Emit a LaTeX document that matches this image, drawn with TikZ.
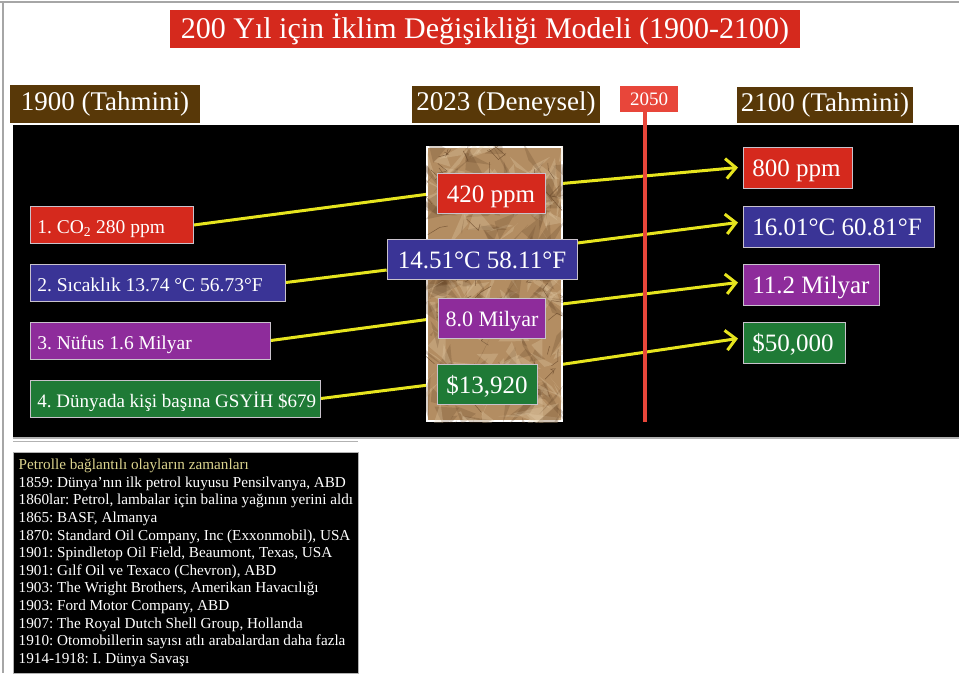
\documentclass[tikz,border=0pt]{standalone}
\usepackage{fontspec}
\setmainfont{Liberation Serif}
\usetikzlibrary{arrows.meta, positioning}

\definecolor{boxred}{HTML}{D5291D}
\definecolor{boxblue}{HTML}{3A3496}
\definecolor{boxpurple}{HTML}{8E2C9B}
\definecolor{boxgreen}{HTML}{1F7A36}
\definecolor{boxedge}{HTML}{C9C2CC}
\definecolor{headbrown}{HTML}{583808}
\definecolor{wireyellow}{HTML}{E6E41E}
\definecolor{markred}{HTML}{E8463A}
\definecolor{paper}{HTML}{B38D62}
\definecolor{papershade}{HTML}{664629}
\definecolor{paperlight}{HTML}{E8D2AE}
\definecolor{eventgold}{HTML}{DCD48E}

\pgfdeclarelayer{panel}
\pgfdeclarelayer{wires}
\pgfsetlayers{panel,wires,main}

% left-aligned text of fixed width inside a box
\newcommand{\fixtext}[2]{\makebox[#1][l]{#2}}

\frenchspacing

\begin{document}
\begin{tikzpicture}[x=1pt, y=-1pt,
  box/.style={
    draw=boxedge,
    line width=0.8pt,
    text=white,
    minimum height=37pt,
    text depth=0pt,
    inner xsep=7pt,
    inner ysep=0pt
  },
  lbox/.style={box, anchor=west, text height=17pt, font=\fontsize{19.5}{22}\selectfont},
  mbox/.style={box, minimum height=40pt, text height=18pt, font=\fontsize{25}{28}\selectfont},
  rbox/.style={box, anchor=west, minimum height=41pt, inner xsep=9pt, text height=18pt,
    font=\fontsize{25}{28}\selectfont},
  head/.style={fill=headbrown, text=white, inner sep=0pt, font=\fontsize{27}{30}\selectfont},
  wire/.style={draw=wireyellow, line width=3pt},
  arrow/.style={wire, -{Straight Barb[length=10pt, width=20pt]}},
  crease/.style={line width=0.5pt, line cap=round}
  ]

\useasboundingbox (0,0) rectangle (959,673);

% Title
\node[fill=boxred, text=white, minimum width=630pt, minimum height=38pt, inner sep=0pt,
  font=\fontsize{30}{33}\selectfont] (title) at (485,29)
  {200 Yıl için İklim Değişikliği Modeli (1900-2100)};

% Column headers
\node[head, minimum width=190pt, minimum height=38pt] (h1900) at (105,104) {1900 (Tahmini)};
\node[head, minimum width=188pt, minimum height=37pt] (h2023) at (506,104.5) {2023 (Deneysel)};
\node[fill=markred, text=white, minimum width=58pt, minimum height=26pt, inner sep=0pt,
  font=\fontsize{19}{21}\selectfont] (h2050) at (649,99) {2050};
\node[head, minimum width=176pt, minimum height=36pt] (h2100) at (825,105) {2100 (Tahmini)};

% Crumpled paper column
\node[fill=paper, draw=white, line width=2pt, minimum width=135pt, minimum height=274pt,
  inner sep=0pt] (paper) at (494.5,284) {};
\begin{scope}
  \clip (paper.north west) rectangle (paper.south east);
  \pgfmathsetseed{17}
  \foreach \k in {1,...,140} {
    \pgfmathsetmacro{\px}{494.5+72*rand}
    \pgfmathsetmacro{\py}{284+142*rand}
    \fill[papershade, opacity=0.25] (\px,\py) -- ++({26*rand},{26*rand}) -- ++({26*rand},{26*rand}) -- cycle;
    \fill[paperlight, opacity=0.28] ({\px+6},{\py-4}) -- ++({24*rand},{24*rand}) -- ++({24*rand},{24*rand}) -- cycle;
  }
  \foreach \k in {1,...,60} {
    \pgfmathsetmacro{\px}{494.5+70*rand}
    \pgfmathsetmacro{\py}{284+140*rand}
    \draw[crease, papershade, opacity=0.7] (\px,\py) -- ++({12*rand},{12*rand}) -- ++({12*rand},{12*rand});
  }
\end{scope}

% 1900 values
\node[lbox, fill=boxred] (co2L) at (30,225) {\fixtext{149pt}{1. CO\textsubscript{2} 280 ppm}};
\node[lbox, fill=boxblue] (tempL) at (30,282.5) {\fixtext{241pt}{2. Sıcaklık 13.74 °C 56.73°F}};
\node[lbox, fill=boxpurple] (popL) at (30,340.5) {\fixtext{226pt}{3. Nüfus 1.6 Milyar}};
\node[lbox, fill=boxgreen, font=\fontsize{19}{22}\selectfont] (gdpL) at (30,398.5)
  {\fixtext{276pt}{4. Dünyada kişi başına GSYİH \$679}};

% 2023 values
\node[mbox, fill=boxred, minimum width=108pt] (co2M) at (491,193) {420 ppm};
\node[mbox, fill=boxblue, minimum width=190pt] (tempM) at (482,259) {14.51°C 58.11°F};
\node[mbox, fill=boxpurple, minimum width=96pt, text height=16pt,
  font=\fontsize{22}{25}\selectfont] (popM) at (492,318) {8.0 Milyar};
\node[mbox, fill=boxgreen, minimum width=100pt] (gdpM) at (487,384) {\$13,920};

% 2100 values
\node[rbox, fill=boxred] (co2R) at (743,167.5) {\fixtext{91pt}{800 ppm}};
\node[rbox, fill=boxblue] (tempR) at (743,226.5) {\fixtext{173pt}{16.01°C 60.81°F}};
\node[rbox, fill=boxpurple] (popR) at (743,284.5) {\fixtext{118pt}{11.2 Milyar}};
\node[rbox, fill=boxgreen] (gdpR) at (743,342.5) {\fixtext{84pt}{\$50,000}};

% Events
\node[anchor=north west, fill=black, draw=gray!60, line width=0.8pt, text=white,
  minimum width=345pt, minimum height=221pt, inner sep=3pt, align=left,
  font=\fontsize{15.2}{17.6}\selectfont] (events) at (13,452)
  {\textcolor{eventgold}{Petrolle bağlantılı olayların zamanları}\\
   1859: Dünya’nın ilk petrol kuyusu Pensilvanya, ABD\\
   1860lar: Petrol, lambalar için balina yağının yerini aldı\\
   1865: BASF, Almanya\\
   1870: Standard Oil Company, Inc (Exxonmobil), USA\\
   1901: Spindletop Oil Field, Beaumont, Texas, USA\\
   1901: Gılf Oil ve Texaco (Chevron), ABD\\
   1903: The Wright Brothers, Amerikan Havacılığı\\
   1903: Ford Motor Company, ABD\\
   1907: The Royal Dutch Shell Group, Hollanda\\
   1910: Otomobillerin sayısı atlı arabalardan daha fazla\\
   1914-1918: I. Dünya Savaşı};

% Background and panel
\begin{pgfonlayer}{panel}
  \fill[white] (0,0) rectangle (959,673);
  \draw[gray!70, line width=2pt] (0,2) -- (959,2);
  \draw[gray!70, line width=2pt] (3,2) -- (3,673);
  \fill[black] (13,125) rectangle (959,437);
  \draw[gray!60, line width=1.5pt] (13,438) -- (959,438);
  \draw[gray!60, line width=1pt] (13,441) -- (358,441);
\end{pgfonlayer}

% Connectors
\begin{pgfonlayer}{wires}
  \draw[wire] (co2L.east) -- (co2M.west);
  \draw[wire] (tempL.east) -- ([yshift=-11pt]tempM.west);
  \draw[wire] (popL.east) -- (popM.west);
  \draw[wire] (gdpL.east) -- (gdpM.west);
  \draw[arrow] ([yshift=8pt]co2M.east) -- ([xshift=-5pt]co2R.west);
  \draw[arrow] ([yshift=16pt]tempM.east) -- ([xshift=-5pt,yshift=4pt]tempR.west);
  \draw[arrow] ([yshift=12pt]popM.east) -- ([xshift=-5pt,yshift=2pt]popR.west);
  \draw[arrow] ([yshift=16pt]gdpM.east) -- ([xshift=-5pt,yshift=4pt]gdpR.west);
\end{pgfonlayer}

% 2050 marker
\coordinate (markEnd) at (645,422);
\draw[markred, line width=4pt] (h2050.south -| markEnd) -- (markEnd);

\end{tikzpicture}
\end{document}
